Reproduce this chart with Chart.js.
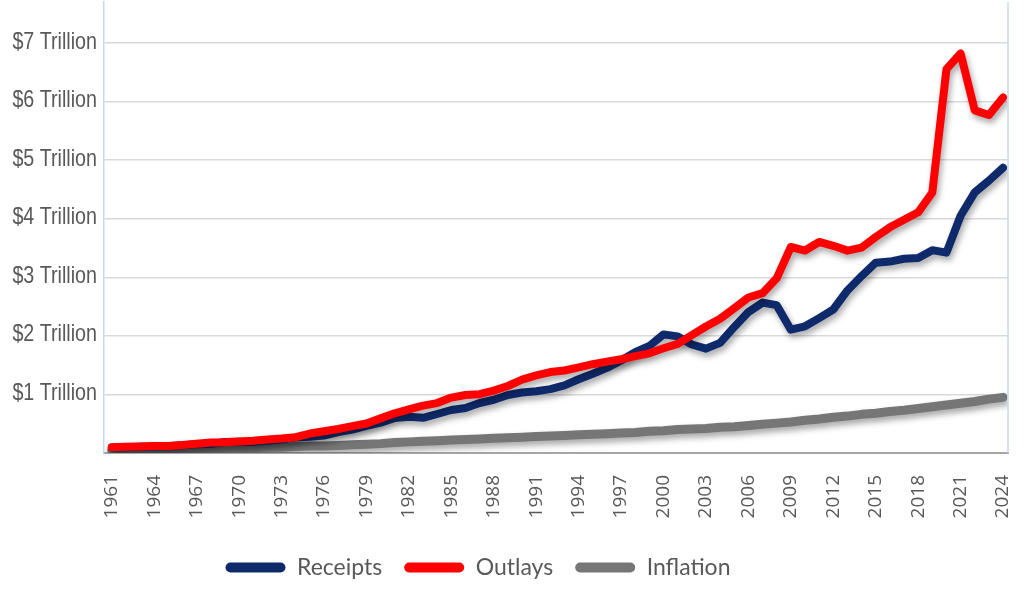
<!DOCTYPE html>
<html>
<head>
<meta charset="utf-8">
<script src="https://cdn.jsdelivr.net/npm/chart.js@4.4.1/dist/chart.umd.min.js"></script>
<style>
  html, body { margin: 0; padding: 0; background: #ffffff; }
  #wrap { width: 1024px; height: 597px; position: relative; }
</style>
</head>
<body>
<div id="wrap"><canvas id="c" width="1024" height="597"></canvas></div>
<script>
const years = [1961,1962,1963,1964,1965,1966,1967,1968,1969,1970,
  1971,1972,1973,1974,1975,1976,1977,1978,1979,1980,
  1981,1982,1983,1984,1985,1986,1987,1988,1989,1990,
  1991,1992,1993,1994,1995,1996,1997,1998,1999,2000,
  2001,2002,2003,2004,2005,2006,2007,2008,2009,2010,
  2011,2012,2013,2014,2015,2016,2017,2018,2019,2020,
  2021,2022,2023,2024];

// Trillions of dollars
const receipts = [0.094,0.100,0.107,0.113,0.117,0.131,0.149,0.153,0.187,0.193,
  0.187,0.207,0.231,0.263,0.279,0.298,0.356,0.400,0.463,0.517,
  0.599,0.618,0.601,0.666,0.734,0.769,0.854,0.909,0.991,1.032,
  1.055,1.091,1.154,1.259,1.352,1.453,1.579,1.722,1.827,2.025,
  1.991,1.853,1.782,1.880,2.153,2.406,2.568,2.524,2.105,2.163,
  2.303,2.450,2.775,3.021,3.250,3.268,3.316,3.330,3.463,3.421,
  4.050,4.450,4.650,4.870];

const outlays = [0.098,0.107,0.111,0.119,0.118,0.135,0.157,0.178,0.184,0.196,
  0.210,0.231,0.246,0.269,0.332,0.372,0.410,0.459,0.504,0.591,
  0.678,0.746,0.809,0.852,0.946,0.990,1.004,1.065,1.144,1.253,
  1.324,1.382,1.409,1.462,1.516,1.560,1.601,1.653,1.702,1.789,
  1.863,2.011,2.160,2.293,2.472,2.655,2.729,2.983,3.517,3.457,
  3.603,3.537,3.455,3.506,3.688,3.853,3.982,4.109,4.447,6.553,
  6.822,5.850,5.770,6.070];

const inflation = [0.05,0.05,0.06,0.06,0.06,0.07,0.07,0.08,0.08,0.09,
  0.09,0.10,0.10,0.11,0.12,0.12,0.13,0.14,0.15,0.16,
  0.18,0.19,0.20,0.21,0.22,0.23,0.24,0.25,0.26,0.27,
  0.28,0.29,0.30,0.31,0.32,0.33,0.34,0.35,0.37,0.38,
  0.40,0.41,0.42,0.44,0.45,0.47,0.49,0.51,0.53,0.56,
  0.58,0.61,0.63,0.66,0.68,0.71,0.73,0.76,0.79,0.82,
  0.85,0.88,0.92,0.95];

const xTickYears = [1961,1964,1967,1970,1973,1976,1979,1982,1985,1988,1991,1994,1997,2000,2003,2006,2009,2012,2015,2018,2021,2024];
const yTickValues = [1,2,3,4,5,6,7];
const yTickLabels = ['$1 Trillion','$2 Trillion','$3 Trillion','$4 Trillion','$5 Trillion','$6 Trillion','$7 Trillion'];

const seriesNames = ['Receipts','Outlays','Inflation'];
const seriesColors = ['#0f2a6b','#ff0000','#767676'];

function pts(vals) { return years.map((y, i) => ({ x: y, y: vals[i] })); }

const shadowPlugin = {
  id: 'shadow',
  beforeDatasetDraw(chart) {
    const ctx = chart.ctx;
    ctx.save();
    ctx.shadowColor = 'rgba(0,0,0,0.35)';
    ctx.shadowBlur = 6;
    ctx.shadowOffsetX = 2;
    ctx.shadowOffsetY = 4;
  },
  afterDatasetDraw(chart) { chart.ctx.restore(); }
};

// right frame line + condensed y-axis tick labels drawn at the scale's own tick positions
const framePlugin = {
  id: 'frame',
  afterLayout(chart) {
    if (chart.legend) { chart.legend.left -= 26; chart.legend.right -= 26; }
  },
  afterDraw(chart) {
    const { ctx, chartArea } = chart;
    ctx.save();
    ctx.strokeStyle = '#c9d7ee';
    ctx.lineWidth = 1.5;
    ctx.beginPath();
    ctx.moveTo(chartArea.right, chartArea.top);
    ctx.lineTo(chartArea.right, chartArea.bottom);
    ctx.stroke();
    const ys = chart.scales.y;
    ctx.fillStyle = '#595959';
    ctx.font = '24px "Liberation Sans", Arial, sans-serif';
    ctx.textAlign = 'right';
    ctx.textBaseline = 'middle';
    yTickValues.forEach((v, i) => {
      const py = ys.getPixelForValue(v);
      ctx.save();
      ctx.translate(chartArea.left - 7, py - 1);
      ctx.scale(0.82, 1);
      ctx.fillText(yTickLabels[i], 0, 0);
      ctx.restore();
    });
    ctx.restore();
  }
};

const mk = (i, vals, width, order) => ({
  label: seriesNames[i],
  data: pts(vals),
  borderColor: seriesColors[i],
  backgroundColor: seriesColors[i],
  borderWidth: width,
  pointRadius: 0,
  tension: 0,
  borderJoinStyle: 'round',
  borderCapStyle: 'round',
  fill: false,
  order: order
});

new Chart(document.getElementById('c'), {
  type: 'line',
  data: {
    datasets: [
      mk(0, receipts, 8, 1),
      mk(1, outlays, 8, 0),
      mk(2, inflation, 9, 2)
    ]
  },
  plugins: [shadowPlugin, framePlugin],
  options: {
    responsive: false,
    animation: false,
    layout: { padding: { top: 2, right: 16, left: 0, bottom: 8 } },
    plugins: {
      tooltip: { enabled: false },
      legend: {
        position: 'bottom',
        labels: {
          boxWidth: 60,
          boxHeight: 10,
          useBorderRadius: true,
          borderRadius: 5,
          padding: 22,
          color: '#595959',
          font: { family: 'Lato, "Open Sans", sans-serif', size: 23 },
          generateLabels(chart) {
            return seriesNames.map((n, i) => ({
              text: n,
              fillStyle: seriesColors[i],
              strokeStyle: seriesColors[i],
              lineWidth: 0,
              borderRadius: 5,
              datasetIndex: i,
              hidden: false,
              fontColor: '#595959'
            }));
          }
        }
      }
    },
    scales: {
      x: {
        type: 'linear',
        min: 1960.45,
        max: 2024.35,
        afterBuildTicks(scale) { scale.ticks = xTickYears.map(v => ({ value: v })); },
        afterFit(scale) { scale.height = 81; scale.paddingLeft = 0; scale.paddingRight = 0; },
        ticks: {
          autoSkip: false,
          minRotation: 90,
          maxRotation: 90,
          padding: 22,
          color: '#595959',
          font: { family: '"Open Sans", sans-serif', size: 19 },
          callback: (v) => String(v)
        },
        grid: { display: false, drawTicks: false },
        border: { color: '#a6a6a6', width: 2 }
      },
      y: {
        min: 0,
        max: 7.7,
        afterBuildTicks(scale) { scale.ticks = [0].concat(yTickValues).map(v => ({ value: v })); },
        afterFit(scale) { scale.width = 104; },
        ticks: { display: false },
        grid: { color: '#d9d9d9', lineWidth: 1.5, drawTicks: false },
        border: { color: '#c9d7ee', width: 1.5 }
      }
    }
  }
});
</script>
</body>
</html>
